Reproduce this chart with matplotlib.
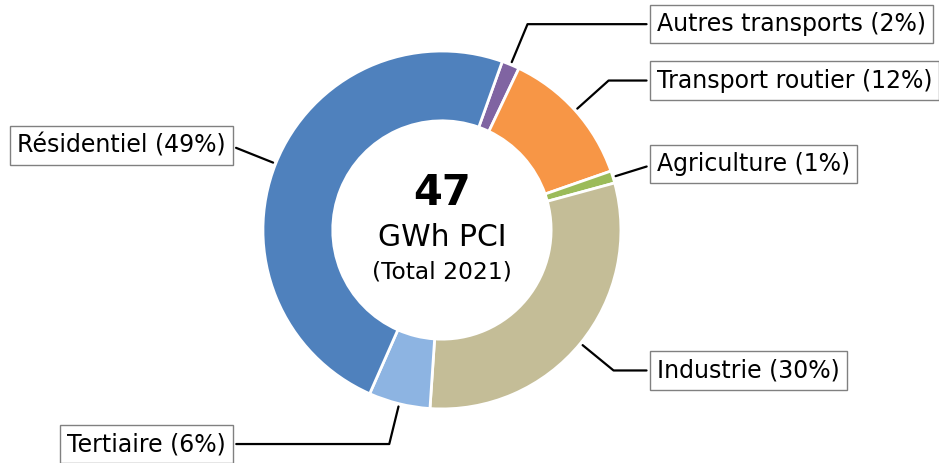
import numpy as np
import matplotlib.pyplot as plt

categories = ["Autres transports", "Transport routier", "Agriculture",
              "Industrie", "Tertiaire", "Résidentiel"]
values_gwh = [0.75, 5.9, 0.52, 14.2, 2.6, 22.9]
label_pct = [2, 12, 1, 30, 6, 49]
colors = ["#8064A2", "#F79646", "#9BBB59", "#C4BD97", "#8DB4E2", "#4F81BD"]
total_label = "47"
unit_label = "GWh PCI"
year_label = "(Total 2021)"

# label layout (data units, radius = 1)
label_y = [1.15, 0.835, 0.369, -0.785, -1.196, 0.472]
label_side = [1, 1, 1, 1, -1, -1]

fig = plt.figure(figsize=(9.39, 4.63), dpi=100)
ax = fig.add_axes([0, 0, 1, 1])
wedges, _ = ax.pie(values_gwh, colors=colors, startangle=70.3, counterclock=False,
                   radius=1, wedgeprops=dict(width=0.39, edgecolor="white", linewidth=2))
ax.set_aspect("auto")
ax.set_xlim(-2.469, 2.777)
ax.set_ylim(-1.302, 1.285)
ax.axis("off")

for w, cat, pct, ty, side in zip(wedges, categories, label_pct, label_y, label_side):
    ang = (w.theta1 + w.theta2) / 2.0
    x, y = np.cos(np.deg2rad(ang)), np.sin(np.deg2rad(ang))
    tx = 1.201 if side > 0 else -1.207
    ax.annotate(f"{cat} ({pct}%)", xy=(x, y), xytext=(tx, ty),
                ha="left" if side > 0 else "right", va="center", fontsize=17,
                bbox=dict(boxstyle="square,pad=0.3", fc="white", ec="#808080", lw=1),
                arrowprops=dict(arrowstyle="-", color="black", lw=1.6,
                                connectionstyle=f"angle,angleA=0,angleB={ang}"),
                zorder=0)

ax.text(0, 0.14, total_label, ha="center", va="baseline", fontsize=30, fontweight="bold")
ax.text(0, -0.089, unit_label, ha="center", va="baseline", fontsize=21.5)
ax.text(0, -0.27, year_label, ha="center", va="baseline", fontsize=16.8)

fig.savefig("out.png", dpi=100)
